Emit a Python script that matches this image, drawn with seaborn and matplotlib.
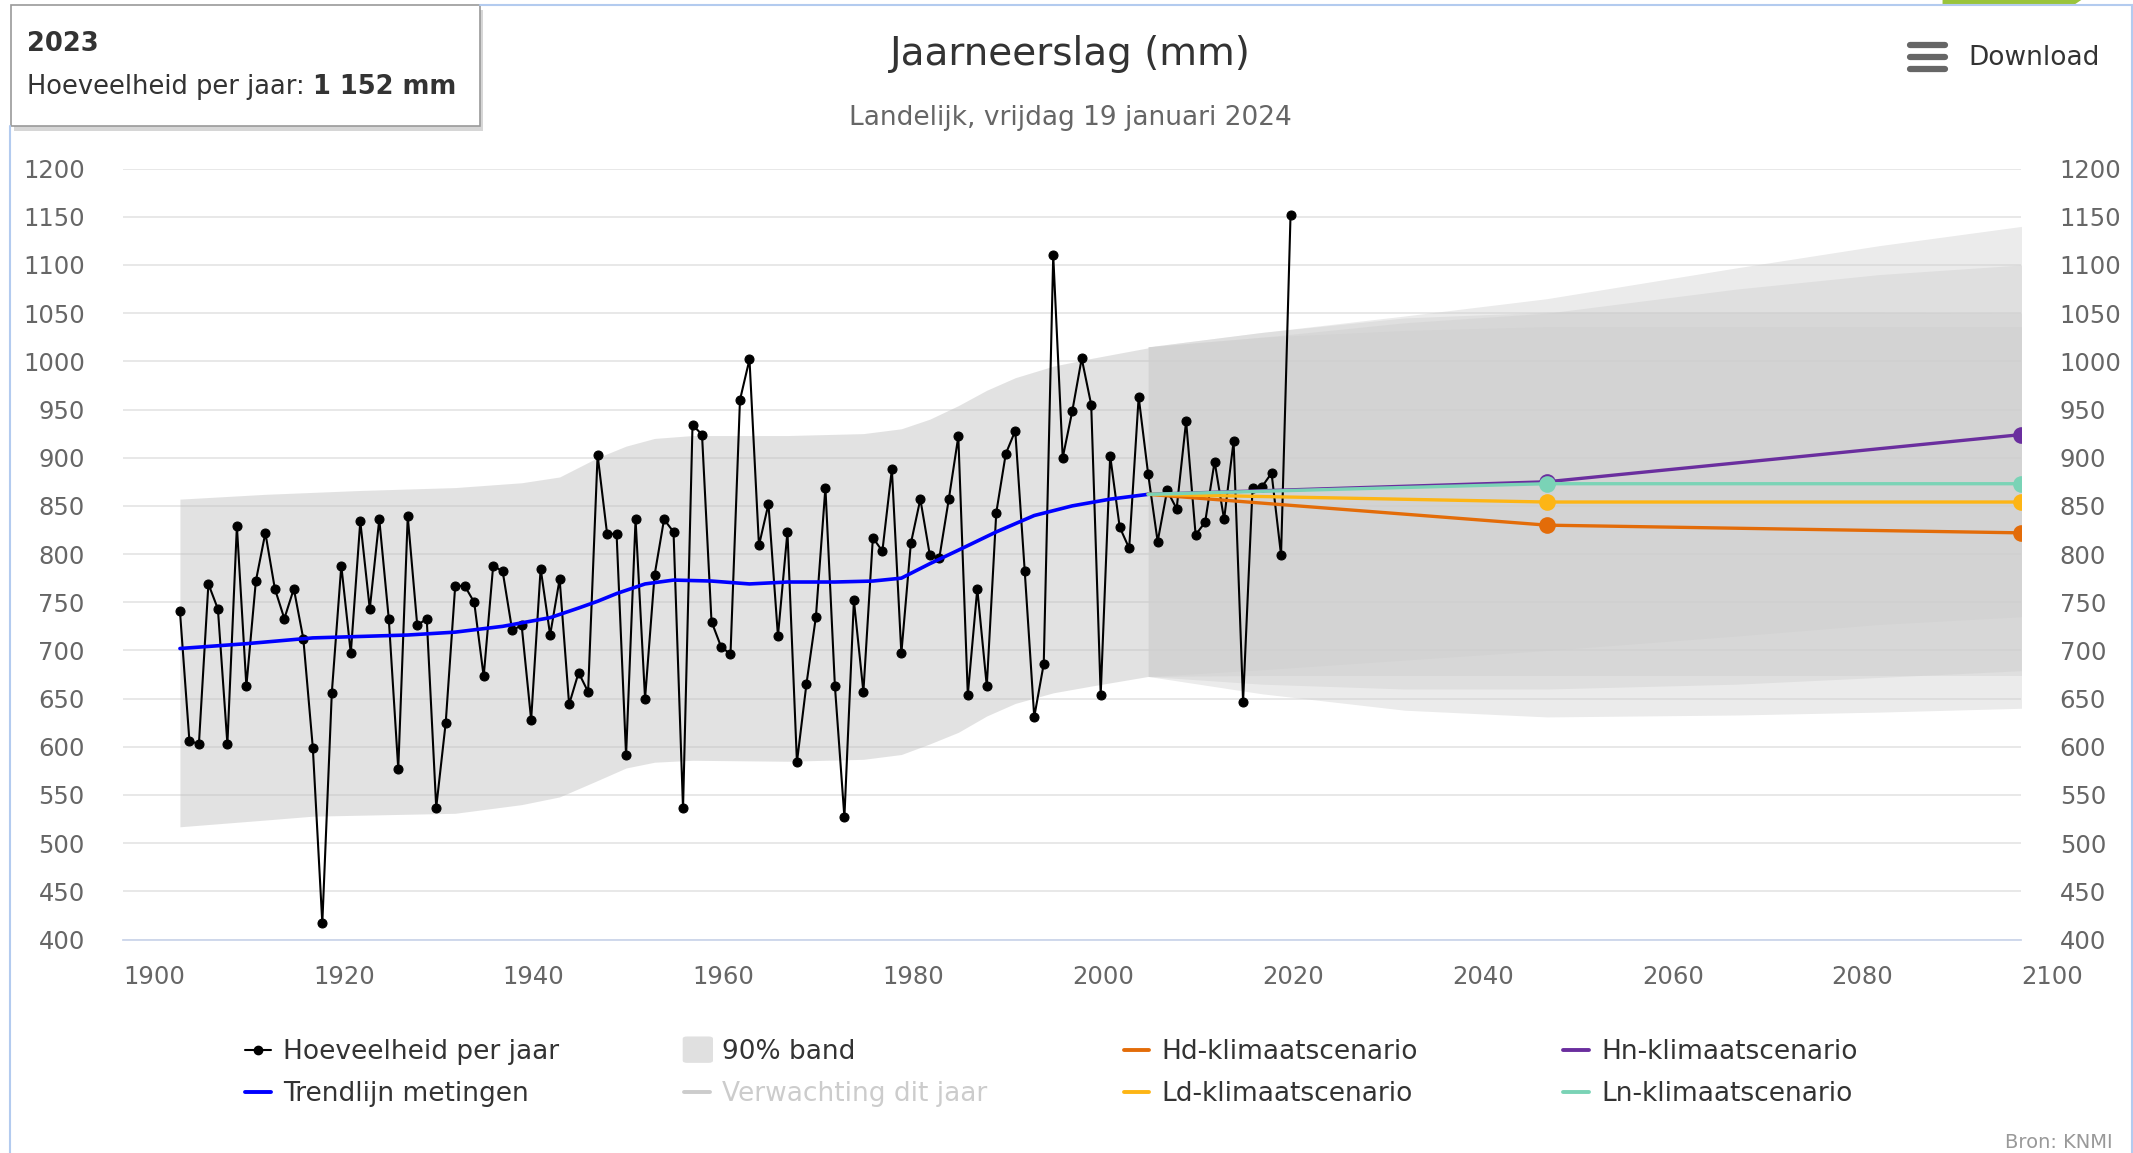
import matplotlib
matplotlib.use('Agg')
import matplotlib.pyplot as plt
from matplotlib.lines import Line2D
from matplotlib.patches import Rectangle, Polygon, FancyBboxPatch
import seaborn as sns

# yearly national precipitation (mm)
YEARS = list(range(1906, 2024))
AMOUNTS = [
    741, 606, 603, 769, 743, 603, 829, 663, 772, 822,
    764, 733, 764, 712, 599, 417, 656, 788, 697, 834,
    743, 836, 733, 577, 839, 726, 733, 537, 625, 767,
    767, 750, 673, 788, 782, 721, 726, 628, 785, 716,
    774, 644, 677, 657, 903, 821, 821, 591, 836, 650,
    778, 836, 823, 536, 934, 924, 730, 704, 696, 960,
    1002, 809, 852, 715, 823, 584, 665, 735, 869, 663,
    527, 752, 657, 817, 803, 888, 697, 811, 857, 799,
    796, 857, 922, 654, 764, 663, 843, 904, 928, 782,
    631, 686, 1110, 900, 948, 1003, 955, 654, 902, 828,
    806, 963, 883, 813, 866, 847, 938, 820, 833, 896,
    836, 917, 647, 869, 870, 884, 799, 1152,
]

TREND_YEARS = [1906, 1913, 1920, 1930, 1935, 1940, 1945, 1948, 1950, 1952, 1955, 1958,
               1962, 1966, 1970, 1975, 1979, 1982, 1985, 1988, 1992, 1996, 2000, 2004, 2008]
TREND_VALUES = [702, 707, 713, 716, 719, 725, 734, 744, 751, 759, 769, 773,
                772, 769, 771, 771, 772, 775, 790, 804, 823, 840, 850, 857, 862]

BAND_YEARS = [1906, 1915, 1920, 1925, 1935, 1942, 1946, 1950, 1953, 1956, 1960, 1970,
              1978, 1982, 1985, 1988, 1991, 1994, 1998, 2002, 2008]
BAND_LOW = [517, 524, 528, 529, 531, 540, 548, 565, 578, 584, 586, 585,
            587, 592, 603, 615, 632, 645, 656, 663, 673]
BAND_HIGH = [857, 862, 864, 866, 869, 874, 880, 900, 912, 920, 923, 923,
             925, 930, 940, 954, 970, 983, 995, 1003, 1014]

# scenario uncertainty bands 2008-2100
PROJ_YEARS = [2008, 2020, 2035, 2050, 2070, 2085, 2100]
PROJ_BANDS = [
    ([673, 655, 638, 631, 633, 636, 640], [1015, 1030, 1047, 1065, 1097, 1120, 1140]),
    ([673, 665, 660, 660, 665, 672, 679], [1015, 1025, 1040, 1050, 1075, 1090, 1100]),
    ([673, 674, 674, 674, 674, 674, 674], [1015, 1030, 1045, 1051, 1051, 1051, 1050]),
    ([673, 680, 690, 700, 715, 727, 735], [1015, 1025, 1032, 1036, 1036, 1036, 1036]),
]

SCEN_YEARS = [2008, 2050, 2100]
SCENARIOS = {
    'Hd-klimaatscenario': [862, 830, 822],
    'Hn-klimaatscenario': [862, 875, 924],
    'Ld-klimaatscenario': [862, 854, 854],
    'Ln-klimaatscenario': [862, 873, 873],
}
SCEN_COLORS = {
    'Hd-klimaatscenario': '#e36c09',
    'Hn-klimaatscenario': '#6a2e9e',
    'Ld-klimaatscenario': '#fdb515',
    'Ln-klimaatscenario': '#7ad3b6',
}

sns.set_style('white')
plt.rcParams['font.family'] = ['DejaVu Sans']

W, H = 1568, 848


def fx(px):
    return px / W


def fy(py):
    return 1 - py / H


fig = plt.figure(figsize=(21.33, 11.53), dpi=100)
ax = fig.add_axes([fx(90.4), fy(691), fx(1486) - fx(90.4), fy(124) - fy(691)])

ax.set_xlim(1900, 2100)
ax.set_ylim(400, 1200)
ax.set_yticks(range(400, 1201, 50))
ax.set_xticks(range(1900, 2101, 20))
ax.grid(axis='y', color='#e6e6e6', lw=1.3, zorder=0)
ax.set_axisbelow(True)

# bands
ax.fill_between(BAND_YEARS, BAND_LOW, BAND_HIGH, color='#c0c0c0', alpha=0.45, lw=0, zorder=1)
for low, high in PROJ_BANDS:
    ax.fill_between(PROJ_YEARS, low, high, color='#cdcdcd', alpha=0.4, lw=0, zorder=1)

# measurements
sns.lineplot(x=YEARS, y=AMOUNTS, ax=ax, color='black', lw=1.5, marker='o',
             markersize=6.5, markeredgecolor='black', zorder=3)
sns.lineplot(x=TREND_YEARS, y=TREND_VALUES, ax=ax, color='#0000ff', lw=2.6, zorder=4)

for name in ['Hd-klimaatscenario', 'Hn-klimaatscenario', 'Ld-klimaatscenario', 'Ln-klimaatscenario']:
    sns.lineplot(x=SCEN_YEARS, y=SCENARIOS[name], ax=ax, color=SCEN_COLORS[name], lw=2.4,
                 marker='o', markersize=12, markeredgewidth=0, markevery=[1, 2], zorder=5)

for side in ['left', 'right', 'top']:
    ax.spines[side].set_visible(False)
ax.spines['bottom'].set_color('#ccd6eb')
ax.spines['bottom'].set_linewidth(1.3)
ax.set_xlabel('')
ax.set_ylabel('')

ax.tick_params(axis='y', left=False, right=False, labelleft=True, labelright=True,
               labelsize=17.5, labelcolor='#666666', pad=24)
ax.tick_params(axis='x', direction='out', length=10, width=1.3, color='#ccd6eb',
               labelsize=17.5, labelcolor='#666666', pad=8)
for lab in ax.get_xticklabels():
    lab.set_ha('left')

# titles
fig.text(fx(787), fy(40), 'Jaarneerslag (mm)', ha='center', va='center', fontsize=28, color='#333333')
fig.text(fx(787), fy(87), 'Landelijk, vrijdag 19 januari 2024', ha='center', va='center',
         fontsize=19, color='#666666')

# download button
for by in [33, 42, 51]:
    fig.add_artist(Line2D([fx(1404), fx(1430)], [fy(by), fy(by)], color='#666666', lw=4.5,
                          solid_capstyle='round'))
fig.text(fx(1447), fy(43), 'Download', ha='left', va='center', fontsize=19, color='#333333')

# tooltip box
fig.add_artist(Rectangle((fx(10), fy(96)), fx(353) - fx(8), fy(4) - fy(93), facecolor='#bbbbbb',
                         edgecolor='none', alpha=0.6))
fig.add_artist(Rectangle((fx(8), fy(93)), fx(353) - fx(8), fy(4) - fy(93), facecolor='white',
                         edgecolor='#999999', lw=1.2))
fig.text(fx(20), fy(32), '2023', ha='left', va='center', fontsize=18.5, fontweight='bold', color='#333333')
t1 = fig.text(fx(20), fy(64), 'Hoeveelheid per jaar: ', ha='left', va='center', fontsize=18.5, color='#333333')
fig.canvas.draw()
bb = t1.get_window_extent(renderer=fig.canvas.get_renderer())
fig.text(bb.x1 / fig.bbox.width, fy(64), '1 152 mm', ha='left', va='center', fontsize=18.5,
         fontweight='bold', color='#333333')

# page border and green tab
fig.add_artist(Line2D([fx(7), fx(7)], [fy(93), 0], color='#b3cbef', lw=1.5))
fig.add_artist(Line2D([fx(353), 1], [fy(4), fy(4)], color='#b3cbef', lw=1.5))
fig.add_artist(Line2D([fx(1567), fx(1567)], [fy(4), 0], color='#b3cbef', lw=1.5))
fig.add_artist(Polygon([(fx(1428), 1), (fx(1530), 1), (fx(1524), fy(4)), (fx(1428), fy(4))],
                       closed=True, facecolor='#9ac43c', edgecolor='none'))

# legend, laid out like the original (two rows of four)
LEGEND_ROWS = [772, 803]
LEGEND_COLS = [180, 503, 826, 1149]
entries = [
    (0, 0, 'Hoeveelheid per jaar', 'marker', 'black'),
    (1, 0, 'Trendlijn metingen', 'line', '#0000ff'),
    (0, 1, '90% band', 'patch', '#e0e0e0'),
    (1, 1, 'Verwachting dit jaar', 'line', '#cccccc'),
    (0, 2, 'Hd-klimaatscenario', 'line', SCEN_COLORS['Hd-klimaatscenario']),
    (1, 2, 'Ld-klimaatscenario', 'line', SCEN_COLORS['Ld-klimaatscenario']),
    (0, 3, 'Hn-klimaatscenario', 'line', SCEN_COLORS['Hn-klimaatscenario']),
    (1, 3, 'Ln-klimaatscenario', 'line', SCEN_COLORS['Ln-klimaatscenario']),
]
for r, c, label, kind, color in entries:
    x0 = LEGEND_COLS[c]
    y0 = LEGEND_ROWS[r]
    if kind == 'patch':
        fig.add_artist(FancyBboxPatch((fx(x0 + 2), fy(y0 + 8)), fx(16), fy(0) - fy(16),
                                      boxstyle='round,pad=0.002', facecolor=color, edgecolor='none'))
    else:
        fig.add_artist(Line2D([fx(x0), fx(x0 + 19)], [fy(y0), fy(y0)], color=color,
                              lw=1.5 if kind == 'marker' else 2.8))
        if kind == 'marker':
            fig.add_artist(Line2D([fx(x0 + 9.5)], [fy(y0)], color=color, marker='o', markersize=6))
    txt_color = '#cccccc' if label == 'Verwachting dit jaar' else '#333333'
    fig.text(fx(x0 + 28), fy(y0 + 1.5), label, ha='left', va='center', fontsize=19, color=txt_color)

fig.text(fx(1553), fy(840), 'Bron: KNMI', ha='right', va='center', fontsize=14, color='#999999')

fig.savefig('out.png', dpi=100, facecolor='white')
